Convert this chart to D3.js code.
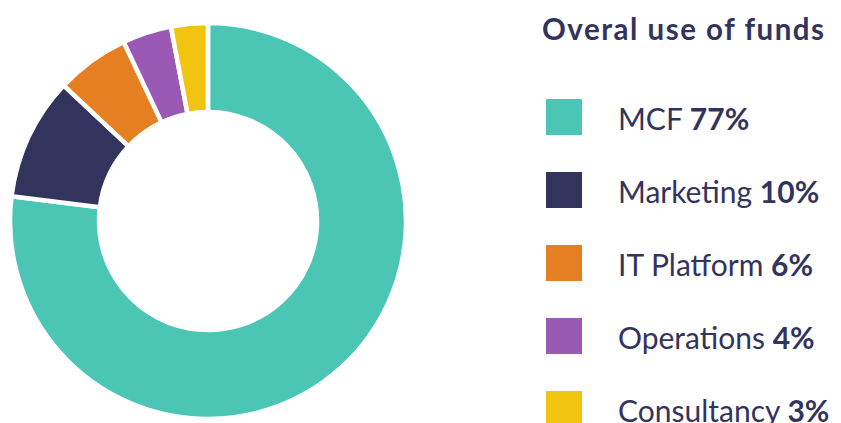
<!DOCTYPE html>
<html>
<head>
<meta charset="utf-8">
<script src="https://cdn.jsdelivr.net/npm/d3@7"></script>
<style>
  body { margin: 0; background: #fff; }
  svg { display: block; font-family: Lato, 'Open Sans', sans-serif; }
</style>
</head>
<body>
<script>
(function () {
  'use strict'

  // Chart data
  var categories = ['MCF', 'Marketing', 'IT Platform', 'Operations', 'Consultancy']
  var shares = [77, 10, 6, 4, 3]
  var colours = ['#4bc6b5', '#33345e', '#e67f22', '#9b59b6', '#f1c40f']
  var title = 'Overal use of funds'

  var w = 841
  var h = 423
  var textColour = '#33345e'

  // Donut geometry
  var cx = 208
  var cy = 221
  var outerR = 198
  var innerR = 109

  var data = categories.map(function (c, i) {
    return { name: c, value: shares[i], colour: colours[i] }
  })

  var svg = d3.select('body').append('svg')
    .attr('width', w)
    .attr('height', h)

  var pie = d3.pie()
    .sort(null)
    .value(function (d) { return d.value })

  var arc = d3.arc()
    .innerRadius(innerR)
    .outerRadius(outerR)

  svg.append('g')
    .attr('transform', 'translate(' + cx + ',' + cy + ')')
    .selectAll('path')
    .data(pie(data))
    .enter().append('path')
      .attr('d', arc)
      .attr('fill', function (d) { return d.data.colour })
      .attr('stroke', '#fff')
      .attr('stroke-width', 4.5)
      .attr('stroke-linejoin', 'miter')

  // Legend
  var lx = 546
  var ly = 99
  var step = 73

  svg.append('text')
    .attr('x', 542)
    .attr('y', 40)
    .attr('fill', textColour)
    .attr('font-size', 29.5)
    .attr('font-weight', 700)
    .attr('textLength', 282)
    .attr('lengthAdjust', 'spacing')
    .text(title)

  var item = svg.selectAll('g.item')
    .data(data)
    .enter().append('g')
      .attr('class', 'item')
      .attr('transform', function (d, i) {
        return 'translate(' + lx + ',' + (ly + i * step) + ')'
      })

  item.append('rect')
    .attr('width', 36)
    .attr('height', 36)
    .attr('fill', function (d) { return d.colour })

  var label = item.append('text')
    .attr('x', 72)
    .attr('y', 31)
    .attr('fill', textColour)
    .attr('font-size', 30)

  label.append('tspan')
    .text(function (d) { return d.name + ' ' })
  label.append('tspan')
    .attr('font-weight', 700)
    .text(function (d) { return d.value + '%' })
}())
</script>
</body>
</html>
